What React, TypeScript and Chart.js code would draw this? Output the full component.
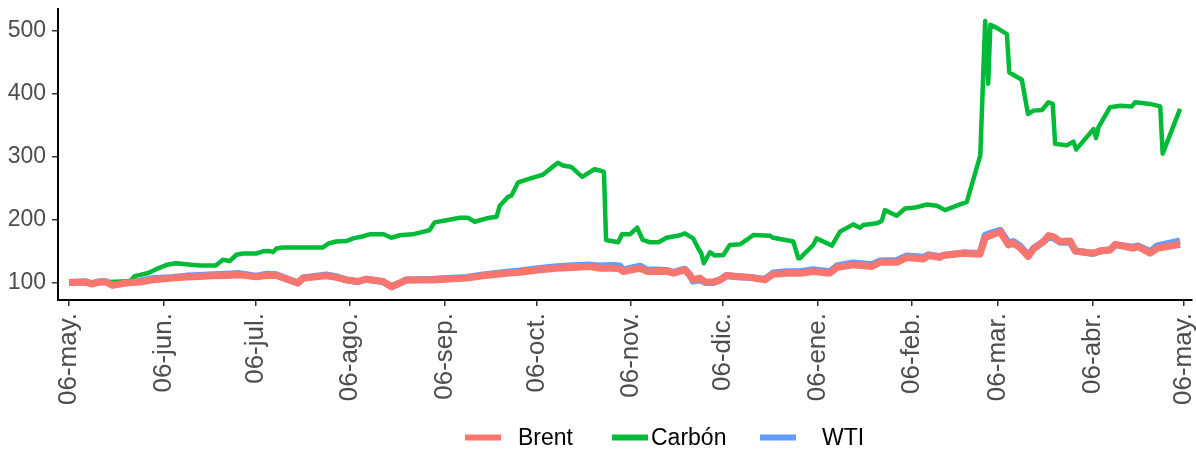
import React, { useEffect, useRef } from 'react';
import { Chart, registerables } from 'chart.js';

Chart.register(...registerables);

// Days counted from 06-may (start of the series)
const carbonDays = [0, 5, 10, 15, 20, 21.5, 26, 29, 32, 35, 40, 43, 48, 50.4, 52.6, 54.8, 57, 61.3, 63.5, 65.7, 66.7, 67.9, 70, 83, 85, 87.5, 91, 93, 96, 98.4, 103, 105.5, 108.3, 112.5, 118, 119.7, 123.5, 128, 130.5, 132.8, 136.7, 140, 141, 143.7, 144.8, 147, 150.8, 155.2, 160, 161.7, 164.5, 168, 172, 173.8, 175.1, 175.8, 179.8, 181, 183.6, 186, 187.8, 190, 193, 195.6, 200, 201.6, 204.3, 206, 207, 207.8, 209.8, 211.4, 214.2, 216.3, 219.6, 221.8, 224, 229.4, 230.5, 237.1, 238.7, 239.3, 243.6, 244.7, 249.7, 252.4, 256.7, 258.9, 260, 264.4, 266, 267.1, 270.9, 273.7, 277, 280.8, 284.1, 286.8, 290.6, 293.9, 298.3, 299.9, 300.9, 301.6, 303.7, 307, 307.8, 311.9, 313.9, 315.7, 318.5, 320.6, 322, 322.8, 326.6, 328.8, 329.7, 335.4, 336.2, 337, 340.8, 344.1, 347.9, 349, 353.9, 357.2, 358, 363.7];
const carbonValues = [100, 99, 100, 101, 102, 110, 115, 122, 128, 130.5, 128, 127, 127, 136, 134, 144, 146, 146, 149.5, 150, 148, 154, 155.4, 155.4, 162, 165, 166, 170, 173, 176.5, 176.5, 171, 175, 176.5, 183, 195.5, 199, 203, 203, 196.5, 202, 204.5, 222, 236, 238, 259, 265, 271.5, 290.5, 286, 283.5, 268, 280, 278, 275.8, 167.5, 164, 176.5, 176.5, 187, 167.5, 164, 164, 171, 175, 178, 170, 154, 146, 130.5, 148, 142.7, 143.7, 159.5, 160.6, 167.5, 175.4, 174.4, 171, 165, 138.5, 138.5, 159.5, 170, 158.6, 180.8, 192.3, 187, 191.2, 194, 197.5, 215, 206, 217.7, 219, 224, 222, 215, 222, 228, 302, 516, 416, 510, 505, 495, 434, 422.4, 368, 373.3, 374.4, 386.6, 384, 320.6, 318, 324, 311.6, 344, 329.6, 347, 378.7, 381, 380, 386.6, 384, 380, 304.8, 376];

const oilDays = [0, 5.6, 7.3, 10, 12.2, 14.3, 18.7, 23.1, 27.4, 34, 38.4, 42.7, 47.1, 51.5, 55.8, 61.3, 64.6, 67.9, 71.1, 74.9, 76.6, 81, 84.2, 87.5, 90.8, 94.6, 97.3, 102.8, 105.6, 108.3, 110.4, 119.2, 130.1, 135.5, 143.2, 147.6, 154.1, 159.6, 165, 170.5, 173.8, 178.1, 180.3, 181.4, 186.9, 189.1, 195.6, 197.8, 201.6, 203.2, 204.3, 206.5, 208.2, 210.9, 213.1, 215.3, 218.5, 222.9, 227.8, 230.5, 234.9, 239.3, 243.6, 249.1, 251.3, 256.7, 262.8, 265.5, 271, 274.2, 279.7, 281.3, 285.1, 286, 292.8, 298.2, 299.9, 302.1, 304.8, 307.5, 309.1, 311.3, 314, 315.7, 319, 320.6, 322.2, 324.4, 327.7, 329.4, 335.3, 337.5, 340.8, 342.5, 348.4, 350, 353.9, 356.2, 363.7];
const brentValues = [100, 100.5, 97.3, 100.5, 100.5, 95.2, 99, 100.5, 104, 106.8, 108.4, 109.5, 110.5, 111, 112, 109, 111, 111, 105.7, 99, 106.8, 109, 110.5, 108, 104, 101.6, 105.2, 101.6, 93, 99, 104, 104, 106.8, 110.5, 114.7, 116.3, 120, 122.6, 123.7, 125.3, 122.6, 122.6, 121.5, 117.4, 122.6, 117.4, 117.4, 114.7, 120, 112, 104, 106.8, 100.5, 100.5, 104, 111, 109.5, 108, 104, 113, 114.7, 114.7, 117.4, 114.7, 123.7, 127.9, 125.3, 132, 132, 139.6, 137.4, 142.7, 139.6, 142.7, 146.4, 144.8, 171.2, 175.4, 180.8, 159.5, 162.2, 155.4, 141.2, 153.2, 165, 174.4, 172.8, 165, 165.9, 150, 146.4, 150, 151.6, 160.6, 154.3, 157, 146.4, 154.3, 160.6];
const wtiValues = [100, 101, 98, 101, 101, 96, 100, 102, 106, 108, 110, 111, 112, 113, 114, 110, 113, 112, 106, 99, 107, 110, 112, 109, 104, 101, 105, 101, 93, 99, 104, 105, 108, 112, 116, 118, 122, 125, 126.5, 127.5, 126, 127, 126, 120, 126, 120, 119, 116, 121, 112, 102, 104, 100, 100, 104, 111, 109, 108, 105, 115, 117, 117, 120, 117, 126, 131, 128, 134, 135, 142, 140, 144, 141, 143, 147, 146, 175, 179, 183, 163, 165, 158, 143, 154, 165, 172, 171, 164, 164, 150, 146, 150, 152, 160, 156, 158, 149, 158, 166];

const seriesNames = ['Brent', 'Carbón', 'WTI'];
const seriesColors = ['#F8766D', '#00BA38', '#619CFF'];

const tickDays = [0, 31, 61, 92, 123, 153, 184, 214, 245, 276, 304, 335, 365];
const tickLabels = ['06-may.', '06-jun.', '06-jul.', '06-ago.', '06-sep.', '06-oct.', '06-nov.', '06-dic.', '06-ene.', '06-feb.', '06-mar.', '06-abr.', '06-may.'];
const yTicks = [100, 200, 300, 400, 500];

const FONT = '"Liberation Sans", Arial, sans-serif';

const legendPlugin = {
  id: 'bottomLegend',
  afterDraw(chart: any) {
    const ctx = chart.ctx;
    const swatchX = [465, 612, 760];
    const textX = [518, 651, 822];
    const y = 437.5;
    ctx.save();
    ctx.font = `23px ${FONT}`;
    ctx.textBaseline = 'middle';
    ctx.textAlign = 'left';
    seriesNames.forEach((name, i) => {
      ctx.strokeStyle = seriesColors[i];
      ctx.lineWidth = 6;
      ctx.lineCap = 'butt';
      ctx.beginPath();
      ctx.moveTo(swatchX[i], y);
      ctx.lineTo(swatchX[i] + 36, y);
      ctx.stroke();
      ctx.fillStyle = '#000000';
      ctx.fillText(name, textX[i], y + 1);
    });
    ctx.restore();
  },
};

export default function App() {
  const canvasRef = useRef<HTMLCanvasElement | null>(null);

  useEffect(() => {
    document.body.style.margin = '0';
    const canvas = canvasRef.current;
    if (!canvas) return;
    const toPts = (xs: number[], ys: number[]) => xs.map((x, i) => ({ x, y: ys[i] }));
    const chart = new Chart(canvas, {
      type: 'line',
      data: {
        datasets: [
          { label: seriesNames[0], data: toPts(oilDays, brentValues), borderColor: seriesColors[0], borderWidth: 7, order: 0 },
          { label: seriesNames[1], data: toPts(carbonDays, carbonValues), borderColor: seriesColors[1], borderWidth: 4.5, order: 1 },
          { label: seriesNames[2], data: toPts(oilDays, wtiValues), borderColor: seriesColors[2], borderWidth: 7, order: 2 },
        ],
      },
      options: {
        responsive: false,
        animation: false,
        devicePixelRatio: 1,
        layout: { padding: { top: 9, right: 4, left: 0, bottom: 0 } },
        elements: {
          point: { radius: 0 },
          line: { tension: 0, borderJoinStyle: 'round', borderCapStyle: 'butt', fill: false },
        },
        plugins: { legend: { display: false }, tooltip: { enabled: false } },
        scales: {
          x: {
            type: 'linear',
            min: -3.6,
            max: 367.6,
            afterBuildTicks: (scale: any) => {
              scale.ticks = tickDays.map((v) => ({ value: v }));
            },
            afterFit: (scale: any) => {
              scale.height = 151;
              scale.paddingLeft = 0;
              scale.paddingRight = 0;
            },
            grid: { drawOnChartArea: false, drawTicks: true, tickLength: 6, color: '#333333', lineWidth: 1.5 },
            border: { display: true, color: '#000000', width: 2 },
            ticks: {
              autoSkip: false,
              maxRotation: 90,
              minRotation: 90,
              padding: 7,
              color: '#4D4D4D',
              font: { family: FONT, size: 26 },
              callback: (value: any) => {
                const idx = tickDays.indexOf(Number(value));
                return idx >= 0 ? tickLabels[idx] : '';
              },
            },
          },
          y: {
            type: 'linear',
            min: 72,
            max: 535,
            afterBuildTicks: (scale: any) => {
              scale.ticks = yTicks.map((v) => ({ value: v }));
            },
            afterFit: (scale: any) => {
              scale.width = 58;
              scale.paddingTop = 0;
              scale.paddingBottom = 0;
            },
            grid: { drawOnChartArea: false, drawTicks: true, tickLength: 6, color: '#333333', lineWidth: 1.5 },
            border: { display: true, color: '#000000', width: 2 },
            ticks: {
              padding: 6,
              color: '#4D4D4D',
              font: { family: FONT, size: 23 },
              callback: (value: any) => String(value),
            },
          },
        },
      },
      plugins: [legendPlugin],
    } as any);
    return () => chart.destroy();
  }, []);

  return (
    <div style={{ width: 1196, height: 451, background: '#ffffff' }}>
      <canvas ref={canvasRef} width={1196} height={451} style={{ display: 'block', width: 1196, height: 451 }} />
    </div>
  );
}
